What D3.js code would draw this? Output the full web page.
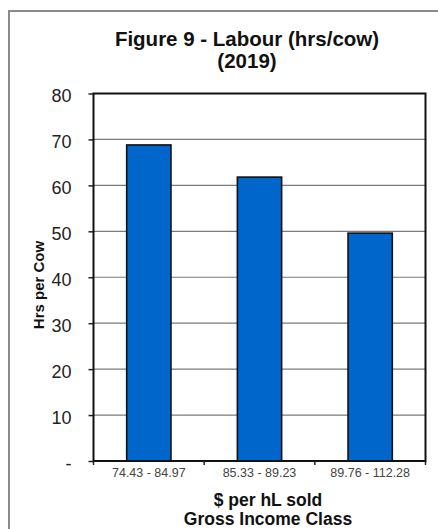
<!DOCTYPE html>
<html>
<head>
<meta charset="utf-8">
<script src="https://cdn.jsdelivr.net/npm/d3@7"></script>
<style>
  html, body { margin: 0; padding: 0; background: #fff; }
  svg { display: block; font-family: "Liberation Sans", Arial, sans-serif; }
</style>
</head>
<body>
<svg id="chart" width="438" height="529"></svg>
<script>
// Labour hours per cow by gross income class, 2019
const categories = ["74.43 - 84.97", "85.33 - 89.23", "89.76 - 112.28"];
const hoursPerCow = [68.8, 61.8, 49.6];
const yTicks = [0, 10, 20, 30, 40, 50, 60, 70, 80];
const yTickLabels = ["-", "10", "20", "30", "40", "50", "60", "70", "80"];
const titleLines = ["Figure 9 - Labour (hrs/cow)", "(2019)"];
const xTitleLines = ["$ per hL sold", "Gross Income Class"];
const yTitle = "Hrs per Cow";

const svg = d3.select("#chart");
const W = 438, H = 529;
const plot = { left: 93.5, right: 425.5, top: 93.5, bottom: 461 };

// outer frame (runs off the right and bottom edges)
svg.append("rect")
  .attr("x", 9).attr("y", 11)
  .attr("width", W + 10).attr("height", H + 10)
  .attr("fill", "#fff").attr("stroke", "#8a8a8a").attr("stroke-width", 2);

const x = d3.scaleBand()
  .domain(categories)
  .range([plot.left, plot.right])
  .paddingInner(0.6)
  .paddingOuter(0.3);

const xCat = d3.scaleBand()
  .domain(categories)
  .range([plot.left, plot.right]);

const y = d3.scaleLinear().domain([0, 80]).range([plot.bottom, plot.top]);

// horizontal gridlines
svg.append("g")
  .selectAll("line")
  .data(yTicks.filter(d => d > 0 && d < 80))
  .join("line")
  .attr("x1", plot.left).attr("x2", plot.right)
  .attr("y1", d => y(d)).attr("y2", d => y(d))
  .attr("stroke", "#7a7a7a").attr("stroke-width", 1.2);

// y axis ticks and labels
const yAxis = d3.axisLeft(y)
  .tickValues(yTicks)
  .tickSize(5)
  .tickPadding(17)
  .tickFormat((d, i) => yTickLabels[i]);
const gy = svg.append("g").attr("transform", `translate(${plot.left},0)`).call(yAxis);
gy.select(".domain").remove();
gy.selectAll(".tick line").attr("stroke", "#222").attr("stroke-width", 1.5);
gy.selectAll(".tick text")
  .attr("font-size", 18).attr("fill", "#222")
  .attr("dy", "0.45em");

// bars
svg.append("g")
  .selectAll("rect")
  .data(hoursPerCow)
  .join("rect")
  .attr("x", (d, i) => x(categories[i]))
  .attr("width", x.bandwidth())
  .attr("y", d => y(d))
  .attr("height", d => y(0) - y(d))
  .attr("fill", "#0066cc")
  .attr("stroke", "#111").attr("stroke-width", 1.6);

// plot frame
svg.append("rect")
  .attr("x", plot.left).attr("y", plot.top)
  .attr("width", plot.right - plot.left).attr("height", plot.bottom - plot.top)
  .attr("fill", "none").attr("stroke", "#111").attr("stroke-width", 2);

// x axis: tick marks at category boundaries
const boundaries = categories.slice(1).map(c => xCat(c)).concat([plot.left, plot.right]);
svg.append("g")
  .selectAll("line")
  .data(boundaries)
  .join("line")
  .attr("x1", d => d).attr("x2", d => d)
  .attr("y1", plot.bottom).attr("y2", plot.bottom + 4)
  .attr("stroke", "#222").attr("stroke-width", 1.5);

svg.append("g")
  .selectAll("text")
  .data(categories)
  .join("text")
  .attr("x", d => xCat(d) + xCat.bandwidth() / 2)
  .attr("y", 477)
  .attr("text-anchor", "middle")
  .attr("font-size", 12.5)
  .attr("fill", "#444")
  .text(d => d);

// x axis title
svg.append("g")
  .selectAll("text")
  .data(xTitleLines)
  .join("text")
  .attr("x", 268)
  .attr("y", (d, i) => 506 + i * 19)
  .attr("text-anchor", "middle")
  .attr("font-size", 17.5).attr("font-weight", "bold")
  .attr("fill", "#111")
  .text(d => d);

// y axis title
svg.append("text")
  .attr("transform", "translate(44,285) rotate(-90)")
  .attr("text-anchor", "middle")
  .attr("font-size", 15).attr("font-weight", "bold")
  .attr("fill", "#111")
  .text(yTitle);

// chart title
svg.append("g")
  .selectAll("text")
  .data(titleLines)
  .join("text")
  .attr("x", 247)
  .attr("y", (d, i) => 46 + i * 22)
  .attr("text-anchor", "middle")
  .attr("font-size", 20.5).attr("font-weight", "bold")
  .attr("fill", "#111")
  .text(d => d);
</script>
</body>
</html>
